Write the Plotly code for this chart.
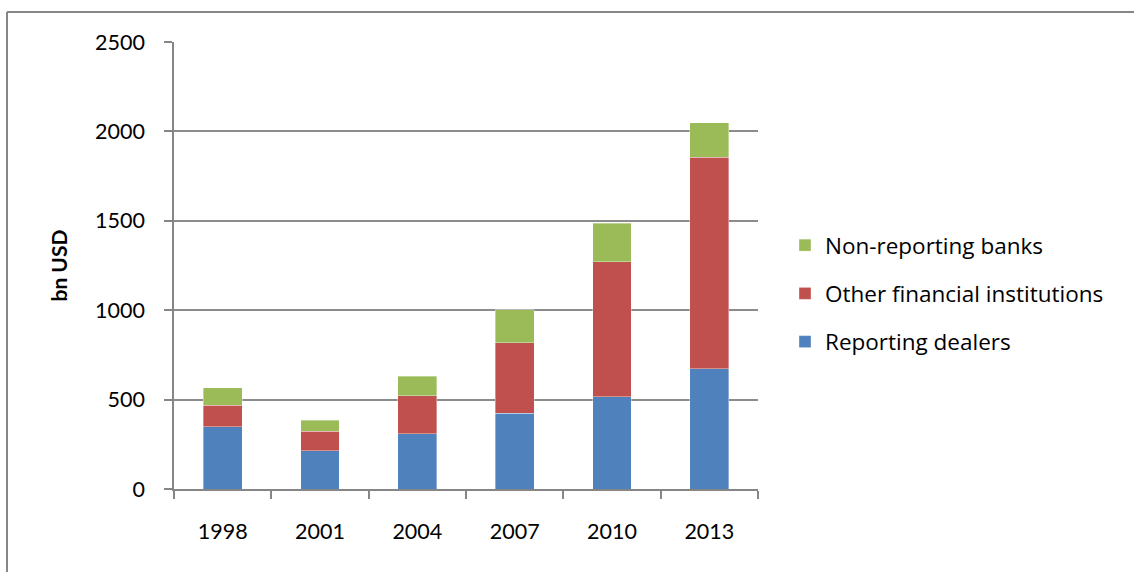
import plotly.graph_objects as go

# Turnover by counterparty, bn USD
years = ["1998", "2001", "2004", "2007", "2010", "2013"]
reporting_dealers = [347, 213, 309, 424, 515, 673]
other_financial = [121, 111, 213, 394, 755, 1183]
non_reporting_banks = [99, 60, 109, 184, 216, 192]

FONT = "Lato"
LEGEND_FONT = "Open Sans"
W, H = 1134, 572
L, R, T, B = 174, 376, 42, 83
PW, PH = W - L - R, H - T - B

fig = go.Figure()
series = [
    ("Reporting dealers", reporting_dealers, "#4F81BD", 3),
    ("Other financial institutions", other_financial, "#C0504D", 2),
    ("Non-reporting banks", non_reporting_banks, "#9BBB59", 1),
]
for i, (name, vals, col, rank) in enumerate(series):
    fig.add_trace(go.Bar(
        x=years, y=vals, name=name, legendgroup=f"g{i}", legendrank=rank,
        marker=dict(color=col, line=dict(width=0.6, color="rgba(255,255,255,0.6)")),
    ))

# outer chart frame (left and top edges)
fx = lambda px: (px - L) / PW
fy = lambda py: (H - B - py) / PH
fig.add_shape(type="line", xref="paper", yref="paper",
              x0=fx(7), x1=fx(1140), y0=fy(12), y1=fy(12),
              line=dict(color="#868686", width=2))
fig.add_shape(type="line", xref="paper", yref="paper",
              x0=fx(7), x1=fx(7), y0=fy(12), y1=fy(580),
              line=dict(color="#868686", width=2))

fig.add_annotation(text="<b>bn USD</b>", textangle=-90, xref="paper", yref="paper",
                   x=fx(58), y=0.5, xanchor="center", yanchor="middle",
                   showarrow=False, font=dict(family=FONT, size=21, color="#000"))

fig.update_layout(
    width=W, height=H,
    margin=dict(l=L, r=R, t=T, b=B, autoexpand=False),
    barmode="stack", bargap=0.6,
    plot_bgcolor="white", paper_bgcolor="white",
    font=dict(family=FONT, size=20, color="#000"),
    showlegend=True,
    legend=dict(x=fx(785), y=fy(224), xanchor="left", yanchor="top",
                traceorder="grouped", tracegroupgap=16,
                font=dict(family=LEGEND_FONT, size=22.5, color="#000"),
                itemwidth=30, bgcolor="rgba(0,0,0,0)"),
    xaxis=dict(type="category", showline=True, linecolor="#868686", linewidth=1.5,
               ticks="outside", tickson="boundaries", ticklen=8, tickcolor="#868686",
               tickwidth=1.5, ticklabelstandoff=22,
               tickfont=dict(family=FONT, size=21.5, color="#000")),
    yaxis=dict(range=[0, 2500], tickvals=[0, 500, 1000, 1500, 2000, 2500],
               showline=True, linecolor="#868686", linewidth=1.5,
               showgrid=True, gridcolor="#8c8c8c", gridwidth=1.5,
               zeroline=False, ticks="outside", ticklen=8, tickcolor="#868686",
               tickwidth=1.5, ticklabelstandoff=15,
               tickfont=dict(family=FONT, size=21.5, color="#000")),
)

fig.write_html("out.html")
